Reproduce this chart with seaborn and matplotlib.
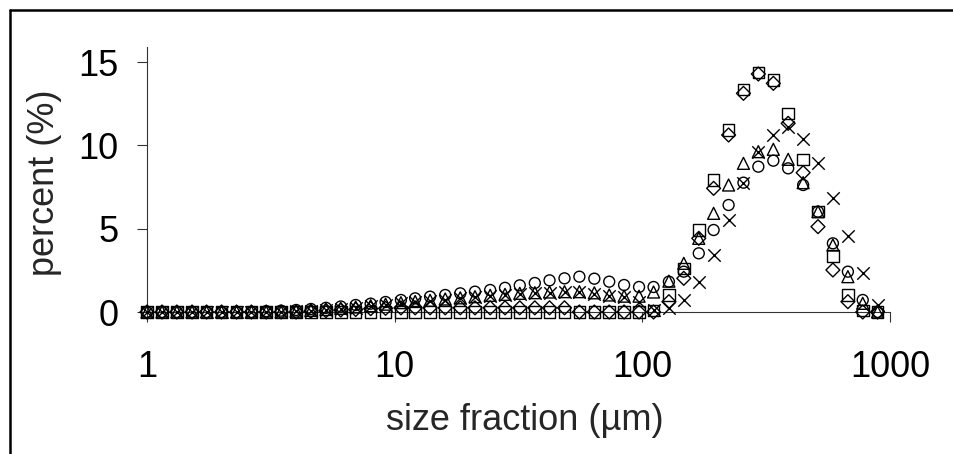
import matplotlib
matplotlib.use("Agg")
import matplotlib.pyplot as plt
from matplotlib.lines import Line2D
from matplotlib.ticker import NullLocator
import pandas as pd
import seaborn as sns

# Size classes (µm), fifth-octave steps from 1 to ~900 µm
size_um = [1.00, 1.15, 1.32, 1.52, 1.74, 2.00, 2.30, 2.64, 3.03, 3.48,
           4.00, 4.59, 5.28, 6.06, 6.96, 8.00, 9.19, 10.6, 12.1, 13.9,
           16.0, 18.4, 21.1, 24.3, 27.9, 32.0, 36.8, 42.2, 48.5, 55.7,
           64.0, 73.5, 84.4, 97.0, 111, 128, 147, 169, 194, 223,
           256, 294, 338, 388, 446, 512, 588, 676, 776, 891]

# Volume percent per size class for each sample
circle_pct = [0, 0, 0, 0, 0, 0, 0, 0, 0.05, 0.08,
              0.12, 0.18, 0.25, 0.33, 0.42, 0.50, 0.60, 0.72, 0.82, 0.92,
              1.02, 1.12, 1.22, 1.32, 1.45, 1.60, 1.74, 1.90, 2.02, 2.12,
              2.00, 1.82, 1.62, 1.50, 1.50, 1.82, 2.42, 3.52, 4.92, 6.42,
              7.76, 8.72, 9.08, 8.62, 7.62, 6.02, 4.12, 2.42, 0.72, 0]

square_pct = [0, 0, 0, 0, 0, 0, 0, 0, 0, 0,
              0, 0, 0, 0, 0, 0, 0, 0, 0, 0,
              0, 0, 0, 0, 0, 0, 0, 0, 0, 0,
              0, 0, 0, 0, 0.10, 1.02, 2.62, 4.92, 7.92, 10.92,
              13.36, 14.36, 13.92, 11.92, 9.16, 6.02, 3.36, 1.02, 0.10, 0]

triangle_pct = [0, 0, 0, 0, 0, 0, 0, 0, 0, 0,
                0.05, 0.10, 0.15, 0.22, 0.30, 0.38, 0.47, 0.56, 0.63, 0.70,
                0.78, 0.85, 0.92, 1.00, 1.06, 1.12, 1.16, 1.20, 1.22, 1.22,
                1.15, 1.02, 0.95, 0.95, 1.20, 1.85, 2.92, 4.42, 5.92, 7.62,
                8.92, 9.62, 9.76, 9.16, 7.76, 6.02, 4.02, 2.12, 0.52, 0]

diamond_pct = [0, 0, 0, 0, 0, 0, 0, 0, 0, 0,
               0, 0.05, 0.08, 0.12, 0.15, 0.20, 0.22, 0.25, 0.25, 0.25,
               0.25, 0.25, 0.25, 0.25, 0.25, 0.25, 0.25, 0.25, 0.25, 0,
               0, 0, 0, 0, 0, 0.62, 2.02, 4.42, 7.42, 10.62,
               13.12, 14.28, 13.72, 11.32, 8.36, 5.12, 2.52, 0.62, 0, 0]

cross_pct = [0, 0, 0, 0, 0, 0, 0, 0, 0, 0,
             0.04, 0.08, 0.13, 0.20, 0.27, 0.35, 0.44, 0.52, 0.60, 0.67,
             0.75, 0.82, 0.90, 0.97, 1.03, 1.08, 1.12, 1.17, 1.20, 1.18,
             1.10, 0.98, 0.90, 0.60, 0.10, 0.25, 0.72, 1.82, 3.42, 5.52,
             7.72, 9.62, 10.62, 11.12, 10.36, 8.92, 6.82, 4.56, 2.32, 0.42]

x_ticks = [1, 10, 100, 1000]
x_tick_labels = ["1", "10", "100", "1000"]
y_ticks = [0, 5, 10, 15]

df = pd.DataFrame({
    "size": size_um,
    "circle": circle_pct,
    "square": square_pct,
    "triangle": triangle_pct,
    "diamond": diamond_pct,
    "cross": cross_pct,
})

sns.set_style("ticks")
plt.rcParams["font.family"] = ["Liberation Sans", "DejaVu Sans"]

W, H = 954, 454
fig = plt.figure(figsize=(W / 100, H / 100), dpi=100)
ax = fig.add_axes([147 / W, 1 - 312 / H, 743 / W, 265 / H])

# open markers, drawn in this order
series = [
    ("circle", "o", 62),
    ("triangle", "^", 74),
    ("square", "s", 70),
    ("diamond", "D", 50),
    ("cross", "x", 80),
]
for col, marker, area in series:
    if marker == "x":
        style = dict(color="black")
    else:
        style = dict(facecolor="none", edgecolor="black")
    sns.scatterplot(data=df, x="size", y=col, marker=marker, s=area,
                    linewidth=1.0, clip_on=False, zorder=3, ax=ax, **style)

ax.set_xscale("log")
ax.set_xlim(1, 1000)
ax.set_ylim(0, 15.9)
ax.set_xticks(x_ticks)
ax.set_xticklabels(x_tick_labels)
ax.xaxis.set_minor_locator(NullLocator())
ax.set_yticks(y_ticks)
ax.set_yticklabels([str(v) for v in y_ticks])

sns.despine(ax=ax)
for side in ("left", "bottom"):
    ax.spines[side].set_linewidth(0.8)
    ax.spines[side].set_color("#333333")

ax.tick_params(axis="both", direction="out", length=7.2, width=0.8,
               color="#333333", labelsize=26, labelcolor="black")
ax.tick_params(axis="y", pad=13.5)
ax.tick_params(axis="x", pad=20)

ax.set_xlabel("size fraction (µm)", fontsize=26)
ax.set_ylabel("percent (%)", fontsize=26)
ax.xaxis.label.set_va("center")
ax.yaxis.label.set_va("center")
ax.xaxis.set_label_coords((525 - 147) / 743, (312 - 421) / 265)
ax.yaxis.set_label_coords((45 - 147) / 743, (312 - 183) / 265)

# outer frame (top and left edges)
fig.add_artist(Line2D([10 / W, 1], [1 - 10 / H, 1 - 10 / H],
                      transform=fig.transFigure, color="black", lw=1.8))
fig.add_artist(Line2D([10 / W, 10 / W], [0, 1 - 10 / H],
                      transform=fig.transFigure, color="black", lw=1.8))

fig.savefig("out.png", dpi=100)
